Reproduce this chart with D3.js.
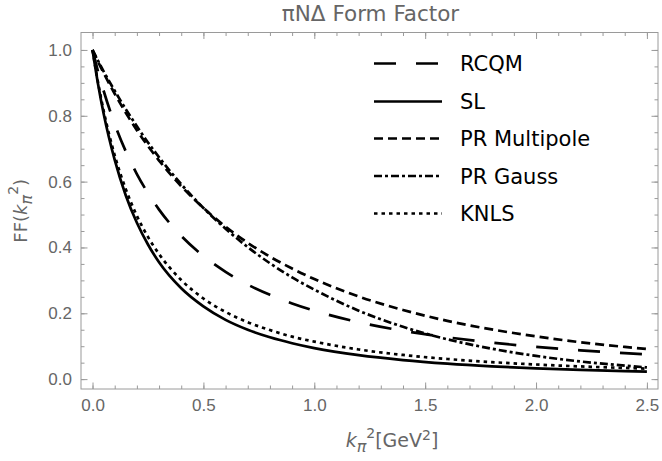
<!DOCTYPE html>
<html>
<head>
<meta charset="utf-8">
<script src="https://cdn.jsdelivr.net/npm/d3@7"></script>
<style>
body { margin: 0; background: #fff; }
svg { display: block; font-family: "DejaVu Sans", sans-serif; }
</style>
</head>
<body>
<svg id="chart" width="662" height="461"></svg>
<script>
// k_pi^2 sample points [GeV^2]
const kSq = [0, 0.025, 0.05, 0.1, 0.15, 0.2, 0.25, 0.3, 0.4, 0.5, 0.6, 0.7, 0.8, 0.9, 1.0, 1.2, 1.4, 1.6, 1.8, 2.0, 2.2, 2.4, 2.5];

// form factor curves
const rcqm = [1, 0.934, 0.876, 0.775, 0.692, 0.623, 0.565, 0.515, 0.435, 0.374, 0.326, 0.287, 0.256, 0.230, 0.208, 0.173, 0.147, 0.127, 0.111, 0.098, 0.0875, 0.0787, 0.0749];
const sl = [1, 0.896, 0.807, 0.666, 0.558, 0.475, 0.409, 0.355, 0.276, 0.221, 0.180, 0.150, 0.127, 0.109, 0.0943, 0.0727, 0.0578, 0.0470, 0.0390, 0.0329, 0.0281, 0.0243, 0.0227];
const prMultipole = [1, 0.964, 0.930, 0.867, 0.809, 0.756, 0.708, 0.664, 0.586, 0.520, 0.463, 0.414, 0.372, 0.336, 0.304, 0.251, 0.210, 0.177, 0.151, 0.130, 0.112, 0.0978, 0.0915];
const prGauss = [1, 0.967, 0.935, 0.876, 0.820, 0.768, 0.719, 0.674, 0.592, 0.520, 0.457, 0.401, 0.352, 0.309, 0.272, 0.208, 0.159, 0.121, 0.0925, 0.0705, 0.0537, 0.0410, 0.0357];
const knls = [1, 0.901, 0.816, 0.680, 0.577, 0.496, 0.432, 0.380, 0.301, 0.245, 0.204, 0.173, 0.149, 0.129, 0.114, 0.0901, 0.0734, 0.0611, 0.0517, 0.0444, 0.0386, 0.0340, 0.0319];

const seriesNames = ['RCQM', 'SL', 'PR Multipole', 'PR Gauss', 'KNLS'];
const seriesValues = [rcqm, sl, prMultipole, prGauss, knls];

const xTicks = [0, 0.5, 1.0, 1.5, 2.0, 2.5];
const yTicks = [0, 0.2, 0.4, 0.6, 0.8, 1.0];

// style
const frameColor = '#9a9a9a',
      labelColor = '#666',
      lineWidth = 2.7;
const dashes = ['22,20', null, '9,5', '8,3,3,3', '3.5,4'];

const svg = d3.select('#chart');
const frameL = 81, frameR = 658, frameT = 32.5, frameB = 389;

const x = d3.scaleLinear().domain([-0.052, 2.55]).range([frameL, frameR]);
const y = d3.scaleLinear().domain([-0.03, 1.053]).range([frameB, frameT]);

// frame
svg.append('rect')
  .attr('x', frameL).attr('y', frameT)
  .attr('width', frameR - frameL).attr('height', frameB - frameT)
  .attr('fill', 'none').attr('stroke', frameColor).attr('stroke-width', 1);

const xMinor = d3.range(0, 2.501, 0.1);
const yMinor = d3.range(0, 1.0001, 0.05);

function styleAxis(g) {
  g.select('.domain').remove();
  g.selectAll('.tick line').attr('stroke', frameColor);
  g.selectAll('.tick text').attr('fill', labelColor).attr('font-size', 17);
}

// bottom
svg.append('g').attr('transform', `translate(0,${frameB})`)
  .call(d3.axisBottom(x).tickValues(xMinor).tickSize(-3.5).tickFormat(''))
  .call(styleAxis);
svg.append('g').attr('transform', `translate(0,${frameB})`)
  .call(d3.axisBottom(x).tickValues(xTicks).tickSize(-6.5).tickPadding(10).tickFormat(d3.format('.1f')))
  .call(styleAxis);
// top
svg.append('g').attr('transform', `translate(0,${frameT})`)
  .call(d3.axisTop(x).tickValues(xMinor).tickSize(-3.5).tickFormat(''))
  .call(styleAxis);
svg.append('g').attr('transform', `translate(0,${frameT})`)
  .call(d3.axisTop(x).tickValues(xTicks).tickSize(-6.5).tickFormat(''))
  .call(styleAxis);
// left
svg.append('g').attr('transform', `translate(${frameL},0)`)
  .call(d3.axisLeft(y).tickValues(yMinor).tickSize(-3.5).tickFormat(''))
  .call(styleAxis);
svg.append('g').attr('transform', `translate(${frameL},0)`)
  .call(d3.axisLeft(y).tickValues(yTicks).tickSize(-6.5).tickPadding(9).tickFormat(d3.format('.1f')))
  .call(styleAxis);
// right
svg.append('g').attr('transform', `translate(${frameR},0)`)
  .call(d3.axisRight(y).tickValues(yMinor).tickSize(-3.5).tickFormat(''))
  .call(styleAxis);
svg.append('g').attr('transform', `translate(${frameR},0)`)
  .call(d3.axisRight(y).tickValues(yTicks).tickSize(-6.5).tickFormat(''))
  .call(styleAxis);

// curves
svg.append('clipPath').attr('id', 'clip')
  .append('rect').attr('x', frameL).attr('y', frameT)
  .attr('width', frameR - frameL).attr('height', frameB - frameT);

const line = d3.line()
  .x((d, i) => x(kSq[i]))
  .y(d => y(d))
  .curve(d3.curveMonotoneX);

svg.append('g').attr('clip-path', 'url(#clip)')
  .selectAll('path')
  .data(seriesValues)
  .join('path')
  .attr('d', d => line(d))
  .attr('fill', 'none')
  .attr('stroke', '#000')
  .attr('stroke-width', lineWidth)
  .attr('stroke-dasharray', (d, i) => dashes[i]);

// legend
const legendRows = [63.5, 101.5, 138.5, 176, 213.5];
const legend = svg.append('g');
seriesNames.forEach((name, i) => {
  legend.append('line')
    .attr('x1', 374).attr('x2', 442)
    .attr('y1', legendRows[i]).attr('y2', legendRows[i])
    .attr('stroke', '#000').attr('stroke-width', lineWidth)
    .attr('stroke-dasharray', dashes[i]);
  legend.append('text')
    .attr('x', 460).attr('y', legendRows[i])
    .attr('dy', '0.36em')
    .attr('font-size', 21)
    .attr('fill', '#000')
    .text(name);
});

// title
svg.append('text')
  .attr('x', (frameL + frameR) / 2 + 1).attr('y', 21)
  .attr('text-anchor', 'middle')
  .attr('font-size', 21.5)
  .attr('fill', labelColor)
  .text('\u03c0N\u0394 Form Factor');

// x label: k_pi^2 [GeV^2]
const xl = svg.append('text')
  .attr('x', 392).attr('y', 447)
  .attr('text-anchor', 'middle')
  .attr('font-size', 19)
  .attr('fill', labelColor);
xl.append('tspan').attr('font-style', 'italic').text('k');
xl.append('tspan').attr('font-style', 'italic').attr('font-size', 16).attr('dy', 5).text('\u03c0');
xl.append('tspan').attr('font-size', 14).attr('dy', -14).text('2');
xl.append('tspan').attr('dy', 9).text('[GeV');
xl.append('tspan').attr('font-size', 14).attr('dy', -7).text('2');
xl.append('tspan').attr('dy', 7).text(']');

// y label: FF(k_pi^2)
const yl = svg.append('text')
  .attr('transform', `translate(27,${(frameT + frameB) / 2}) rotate(-90)`)
  .attr('text-anchor', 'middle')
  .attr('font-size', 18)
  .attr('fill', labelColor);
yl.append('tspan').text('FF(');
yl.append('tspan').attr('font-style', 'italic').text('k');
yl.append('tspan').attr('font-style', 'italic').attr('font-size', 16).attr('dy', 5).text('\u03c0');
yl.append('tspan').attr('font-size', 14).attr('dy', -14).text('2');
yl.append('tspan').attr('dy', 9).text(')');
</script>
</body>
</html>
